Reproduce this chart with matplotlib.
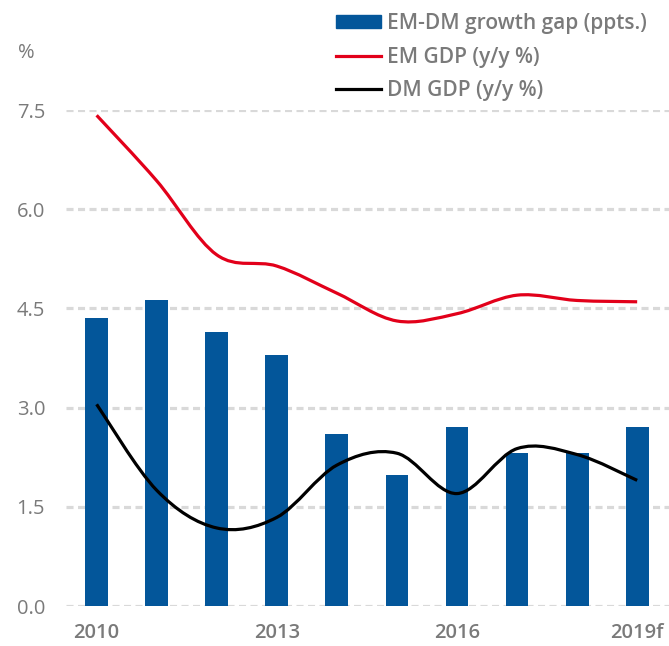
import matplotlib
matplotlib.use("Agg")
import matplotlib.pyplot as plt
from matplotlib.path import Path
from matplotlib.patches import PathPatch, Patch
from matplotlib.lines import Line2D

years = ["2010", "2011", "2012", "2013", "2014", "2015", "2016", "2017", "2018", "2019f"]
gap = [4.36, 4.63, 4.15, 3.79, 2.60, 1.98, 2.70, 2.31, 2.31, 2.70]
em_gdp = [7.42, 6.43, 5.31, 5.14, 4.73, 4.31, 4.42, 4.70, 4.62, 4.60]
dm_gdp = [3.05, 1.75, 1.18, 1.34, 2.13, 2.31, 1.70, 2.38, 2.29, 1.90]
yticks = [0.0, 1.5, 3.0, 4.5, 6.0, 7.5]
xtick_idx = [0, 3, 6, 9]

blue = "#03569a"
red = "#e2001a"
grey_txt = "#7a7a7a"

plt.rcParams['font.family'] = ['Open Sans', 'DejaVu Sans']


def smooth_path(xs, ys):
    # catmull-rom style smoothing, drawn as cubic bezier segments
    pts = list(zip(xs, ys))
    n = len(pts)
    verts = [pts[0]]
    codes = [Path.MOVETO]
    for i in range(n - 1):
        p0 = pts[i - 1] if i > 0 else pts[i]
        p1 = pts[i]
        p2 = pts[i + 1]
        p3 = pts[i + 2] if i + 2 < n else pts[i + 1]
        c1 = (p1[0] + (p2[0] - p0[0]) / 6, p1[1] + (p2[1] - p0[1]) / 6)
        c2 = (p2[0] - (p3[0] - p1[0]) / 6, p2[1] - (p3[1] - p1[1]) / 6)
        verts += [c1, c2, p2]
        codes += [Path.CURVE4] * 3
    return Path(verts, codes)


fig = plt.figure(figsize=(6.69, 6.46), dpi=100)
ax = fig.add_axes([66 / 669, 40 / 646, 1 - 66 / 669, 496 / 646])

x = list(range(len(years)))
ax.bar(x, gap, width=0.38, color=blue, zorder=2)
ax.add_patch(PathPatch(smooth_path(x, em_gdp), facecolor="none", edgecolor=red,
                       lw=2.3, zorder=3, capstyle="butt"))
ax.add_patch(PathPatch(smooth_path(x, dm_gdp), facecolor="none", edgecolor="black",
                       lw=2.3, zorder=3, capstyle="butt"))

ax.set_xlim(-0.51, 9.53)
ax.set_ylim(0, 7.5)
ax.set_yticks(yticks)
ax.set_yticklabels([f"{v:.1f}" for v in yticks], fontweight="medium")
ax.set_xticks(xtick_idx)
ax.set_xticklabels([years[i] for i in xtick_idx], fontweight="semibold")
ax.tick_params(length=0, labelsize=14.5, colors=grey_txt)
ax.tick_params(axis="y", pad=15)
ax.tick_params(axis="x", pad=12)
for s in ax.spines.values():
    s.set_visible(False)
ax.yaxis.grid(True, color="#d9d9d9", lw=2.3, dashes=(2.2, 1.4), zorder=0)
ax.set_axisbelow(True)

fig.text(18 / 669, 1 - 53 / 646, "%", fontsize=14.5, color=grey_txt, va="center",
         ha="left", fontweight="medium")

handles = [Patch(color=blue), Line2D([], [], color=red, lw=2.3),
           Line2D([], [], color="black", lw=2.3)]
labels = ["EM-DM growth gap (ppts.)", "EM GDP (y/y %)", "DM GDP (y/y %)"]
leg = fig.legend(handles, labels, loc="upper left", bbox_to_anchor=(336 / 669, 1 - 13 / 646),
                 frameon=False, handlelength=2.15, handleheight=0.55,
                 handletextpad=0.3, labelspacing=0.6, borderaxespad=0, borderpad=0,
                 prop={"weight": "semibold", "size": 15})
for t in leg.get_texts():
    t.set_color(grey_txt)

fig.savefig("out.png", dpi=100)
